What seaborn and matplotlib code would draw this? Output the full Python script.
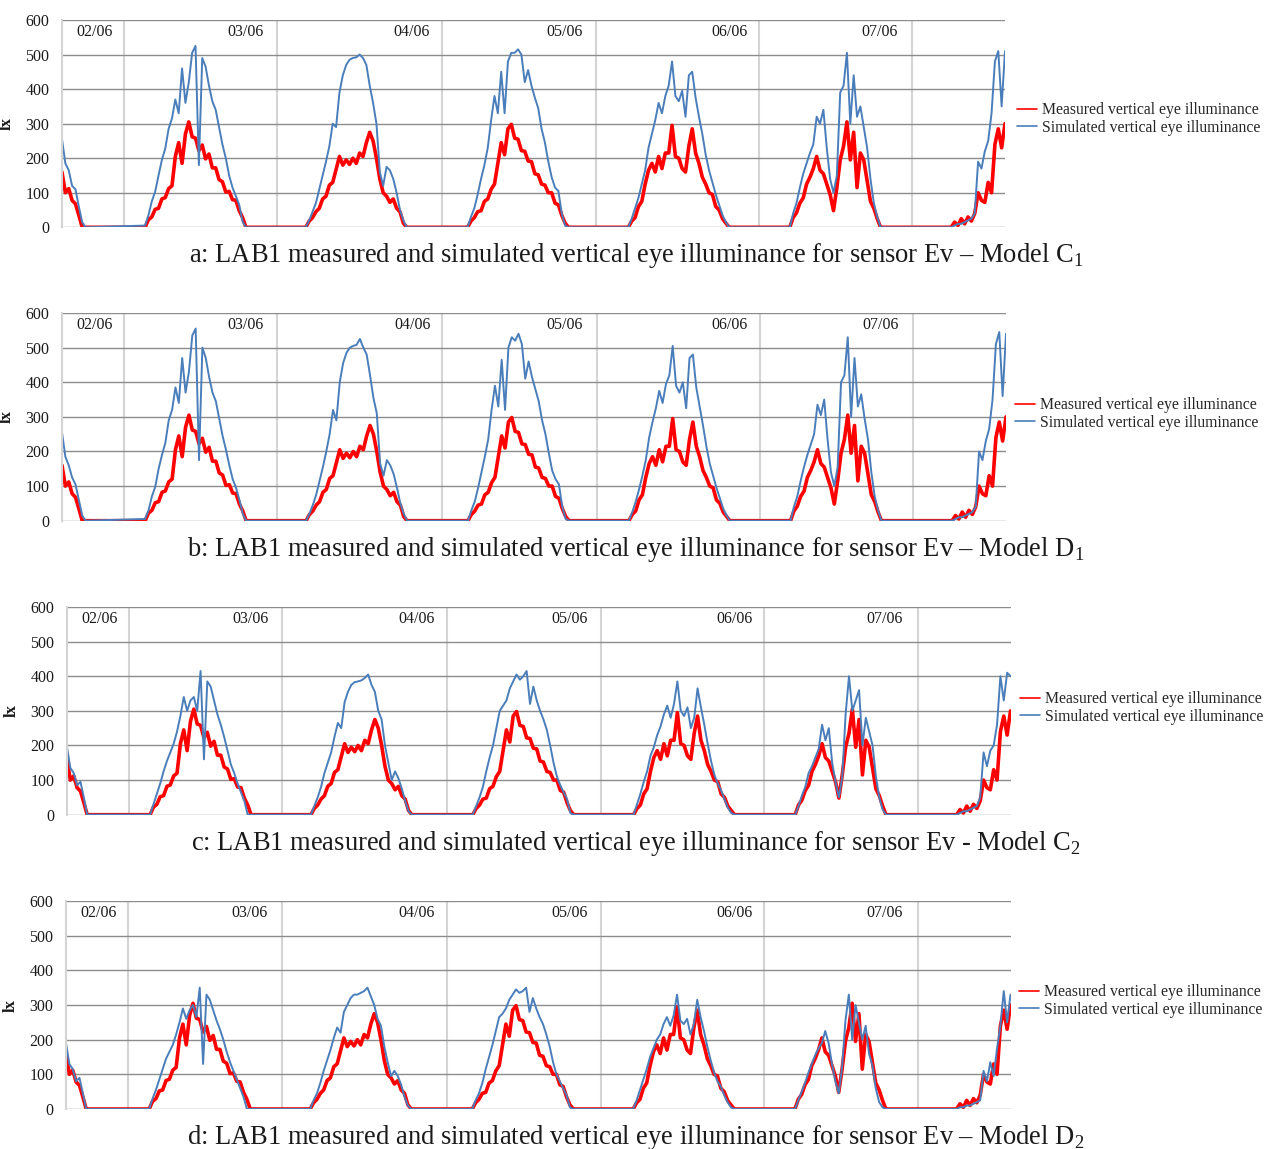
import numpy as np
import pandas as pd
import matplotlib
matplotlib.use("Agg")
import matplotlib.pyplot as plt
from matplotlib.lines import Line2D
import seaborn as sns

# readings every half hour, nights are 0 lx
STEP = 0.5
day_start = [0.0, 12.35, 36.25, 60.3, 84.2, 108.2, 132.2]
x_end = 140.2

day_lines = [9.2, 32.0, 56.5, 79.4, 103.6, 126.4]
day_labels = ["02/06", "03/06", "04/06", "05/06", "06/06", "07/06"]
label_hours = [4.9, 27.3, 52.0, 74.7, 99.2, 121.5]

measured = [
    [160, 100, 112, 78, 68, 35, 0],
    [0, 22, 30, 52, 55, 82, 86, 112, 120, 205, 245, 185, 270, 305, 262, 258, 222, 238, 198, 212,
     172, 172, 138, 132, 102, 104, 80, 78, 48, 28, 0],
    [0, 18, 28, 45, 55, 82, 90, 122, 130, 168, 205, 180, 195, 182, 200, 185, 215, 205, 245, 275,
     250, 200, 140, 100, 90, 72, 82, 55, 45, 12, 0],
    [0, 18, 28, 45, 48, 75, 82, 110, 125, 185, 245, 210, 285, 298, 258, 255, 222, 220, 192, 190,
     155, 152, 125, 122, 100, 100, 70, 65, 35, 12, 0],
    [0, 18, 28, 60, 75, 125, 165, 185, 160, 205, 170, 215, 215, 295, 205, 200, 170, 160, 235, 285,
     215, 185, 145, 125, 100, 95, 60, 50, 25, 12, 0],
    [0, 28, 42, 70, 85, 125, 145, 170, 205, 165, 155, 125, 95, 48, 115, 195, 235, 305, 195, 275,
     115, 215, 195, 135, 75, 55, 25, 0],
    [0, 15, 5, 25, 10, 30, 18, 40, 100, 78, 72, 130, 100, 240, 285, 230, 300],
]

sim_c1 = [
    [255, 185, 165, 120, 110, 60, 15, 0],
    [5, 35, 75, 103, 150, 195, 228, 285, 315, 370, 330, 460, 360, 420, 505, 525, 180, 490, 465, 410,
     365, 340, 290, 240, 200, 150, 115, 90, 65, 16, 0],
    [0, 20, 45, 70, 110, 150, 190, 235, 300, 290, 390, 440, 470, 485, 490, 492, 500, 490, 470, 410,
     360, 300, 160, 120, 175, 165, 140, 100, 50, 20, 0],
    [0, 30, 55, 95, 140, 180, 230, 310, 380, 330, 450, 330, 480, 505, 505, 515, 500, 420, 455, 410,
     375, 345, 285, 245, 190, 145, 115, 105, 40, 5, 0],
    [0, 25, 55, 85, 125, 165, 230, 270, 310, 360, 330, 380, 410, 480, 380, 365, 395, 320, 440, 450,
     375, 320, 270, 210, 165, 130, 95, 65, 35, 15, 0],
    [0, 40, 70, 115, 155, 185, 215, 240, 320, 300, 340, 230, 140, 100, 150, 390, 410, 505, 300, 440,
     320, 350, 290, 230, 140, 70, 30, 0],
    [0, 5, 10, 10, 15, 20, 25, 40, 190, 170, 220, 250, 330, 480, 510, 350, 510],
]

sim_d1 = [
    [255, 185, 160, 125, 105, 60, 15, 0],
    [5, 30, 70, 98, 150, 190, 225, 290, 320, 385, 340, 470, 370, 430, 535, 555, 175, 500, 470, 415,
     370, 345, 295, 245, 205, 160, 120, 95, 60, 20, 0],
    [0, 20, 45, 75, 115, 155, 200, 250, 320, 290, 400, 455, 485, 500, 505, 508, 525, 500, 480, 420,
     355, 310, 165, 130, 175, 160, 135, 95, 50, 20, 0],
    [0, 30, 55, 95, 140, 185, 235, 320, 390, 330, 465, 320, 500, 530, 520, 540, 510, 410, 460, 415,
     380, 345, 290, 250, 195, 145, 120, 105, 40, 5, 0],
    [0, 25, 55, 90, 130, 175, 240, 285, 325, 375, 340, 395, 420, 505, 390, 370, 400, 325, 470, 480,
     385, 330, 275, 215, 165, 130, 95, 65, 35, 15, 0],
    [0, 40, 70, 115, 155, 190, 220, 250, 335, 305, 350, 235, 140, 100, 155, 400, 420, 530, 300, 470,
     330, 365, 295, 235, 140, 70, 30, 0],
    [0, 5, 10, 10, 15, 20, 25, 40, 200, 175, 230, 265, 350, 510, 545, 360, 540],
]

sim_c2 = [
    [195, 135, 120, 85, 95, 50, 0],
    [0, 30, 60, 90, 125, 155, 180, 205, 240, 285, 340, 300, 330, 340, 300, 415, 160, 385, 370, 330,
     290, 260, 225, 185, 145, 120, 90, 65, 40, 0],
    [0, 25, 50, 80, 120, 150, 180, 225, 265, 250, 325, 355, 375, 383, 385, 388, 395, 405, 375, 355,
     300, 275, 200, 150, 100, 125, 105, 75, 40, 10, 0],
    [0, 25, 50, 80, 125, 165, 200, 250, 300, 315, 330, 365, 385, 405, 390, 400, 415, 320, 370, 330,
     300, 275, 245, 200, 150, 110, 85, 65, 45, 5, 0],
    [0, 30, 60, 95, 125, 170, 195, 230, 255, 290, 315, 280, 320, 385, 300, 285, 310, 250, 280, 365,
     310, 260, 205, 155, 115, 90, 70, 45, 20, 5, 0],
    [0, 25, 55, 80, 120, 140, 165, 190, 260, 215, 250, 150, 95, 50, 110, 290, 400, 300, 330, 360,
     200, 280, 240, 200, 110, 50, 15, 0],
    [0, 5, 10, 10, 15, 20, 25, 50, 180, 140, 185, 200, 260, 400, 330, 410, 400],
]

sim_d2 = [
    [190, 130, 115, 80, 90, 45, 0],
    [0, 30, 55, 85, 115, 145, 165, 185, 215, 250, 290, 260, 285, 300, 265, 350, 130, 330, 315, 285,
     255, 230, 200, 165, 135, 110, 85, 60, 35, 0],
    [0, 25, 45, 75, 110, 140, 170, 205, 235, 220, 280, 300, 320, 330, 330, 335, 340, 350, 325, 300,
     260, 240, 180, 135, 95, 110, 95, 70, 35, 10, 0],
    [0, 25, 45, 75, 115, 150, 185, 225, 265, 275, 290, 315, 330, 345, 335, 340, 350, 280, 320, 290,
     265, 245, 215, 180, 135, 100, 80, 60, 40, 5, 0],
    [0, 25, 55, 85, 115, 150, 175, 200, 215, 245, 265, 240, 270, 330, 255, 245, 260, 215, 245, 315,
     265, 225, 180, 140, 105, 80, 65, 40, 20, 5, 0],
    [0, 25, 50, 75, 105, 130, 155, 175, 190, 225, 190, 130, 80, 45, 120, 255, 330, 200, 300, 250,
     200, 240, 160, 125, 60, 20, 5, 0],
    [0, 5, 5, 10, 10, 15, 20, 25, 110, 80, 135, 95, 175, 240, 340, 250, 330],
]

captions = [
    r"a: LAB1 measured and simulated vertical eye illuminance for sensor Ev – Model C$_{\mathrm{1}}$",
    r"b: LAB1 measured and simulated vertical eye illuminance for sensor Ev – Model D$_{\mathrm{1}}$",
    r"c: LAB1 measured and simulated vertical eye illuminance for sensor Ev - Model C$_{\mathrm{2}}$",
    r"d: LAB1 measured and simulated vertical eye illuminance for sensor Ev – Model D$_{\mathrm{2}}$",
]
sims = [sim_c1, sim_d1, sim_c2, sim_d2]
legend_labels = ["Measured vertical eye illuminance", "Simulated vertical eye illuminance"]


def to_frame(days):
    hours, lx = [], []
    for start, vals in zip(day_start, days):
        for i, v in enumerate(vals):
            hours.append(start + STEP * i)
            lx.append(v)
    return pd.DataFrame({"hour": hours, "lx": lx})


sns.set_theme(style="white")
plt.rcParams["font.family"] = ["Liberation Serif", "DejaVu Serif"]
plt.rcParams["mathtext.fontset"] = "custom"
plt.rcParams["mathtext.rm"] = "Liberation Serif"

W, H = 1268, 1149
fig = plt.figure(figsize=(W / 100, H / 100), dpi=100)

# pixel boxes: left, right, y of 0 lx, y of 600 lx
boxes = [(62, 1005, 227.3, 20), (62, 1006, 520.7, 313), (67, 1010.5, 814.7, 607), (66, 1010.5, 1109, 901)]
caption_y = [256, 549, 843, 1137]
legend_x = [1017, 1015, 1020, 1019]
legend_y = [119, 414, 708, 1001]

meas_df = to_frame(measured)
red = "#ff0000"
blue = "#4a7ebb"
handles = [Line2D([], [], color=red, linewidth=1.2), Line2D([], [], color=blue, linewidth=1.2)]

for k, (l, r, y0, y6) in enumerate(boxes):
    ax = fig.add_axes([l / W, 1 - y0 / H, (r - l) / W, (y0 - y6) / H])
    sim_df = to_frame(sims[k])
    sns.lineplot(data=meas_df, x="hour", y="lx", ax=ax, color=red, linewidth=2.6,
                 estimator=None)
    sns.lineplot(data=sim_df, x="hour", y="lx", ax=ax, color=blue, linewidth=1.4,
                 estimator=None)
    ax.set_xlim(0, x_end)
    ax.set_ylim(0, 600)
    ax.set_yticks(range(0, 601, 100))
    ax.set_xticks([])
    ax.yaxis.grid(True, color="#8c8c8c", linewidth=1.0)
    ax.set_axisbelow(True)
    for s in ["top", "right", "bottom"]:
        ax.spines[s].set_visible(False)
    ax.spines["left"].set_color("#d4d4d4")
    ax.spines["left"].set_linewidth(1.5)
    for xd in day_lines:
        ax.axvline(xd, color="#d4d4d4", linewidth=1.5, zorder=0.5)
    for lab, xh in zip(day_labels, label_hours):
        ax.text(xh, 566, lab, ha="center", va="center", fontsize=11.5, color="#1a1a1a")
    ax.tick_params(axis="y", length=0, pad=9, labelsize=11.5, labelcolor="#1a1a1a")
    ax.set_xlabel("")
    ax.set_ylabel("lx", fontsize=12, fontweight="bold", color="#1a1a1a")
    ax.yaxis.set_label_coords(-47 / (r - l), 0.5)
    ax.legend(handles, legend_labels, loc="center left",
              bbox_to_anchor=((legend_x[k] - l) / (r - l), (y0 - legend_y[k]) / (y0 - y6)),
              frameon=False, fontsize=11.3, handlelength=1.25, handletextpad=0.35, borderpad=0,
              borderaxespad=0, labelspacing=0.1)
    fig.text(636 / W, 1 - caption_y[k] / H, captions[k], ha="center", va="center", fontsize=19.1,
             color="#1a1a1a")

fig.savefig("out.png", dpi=100)
